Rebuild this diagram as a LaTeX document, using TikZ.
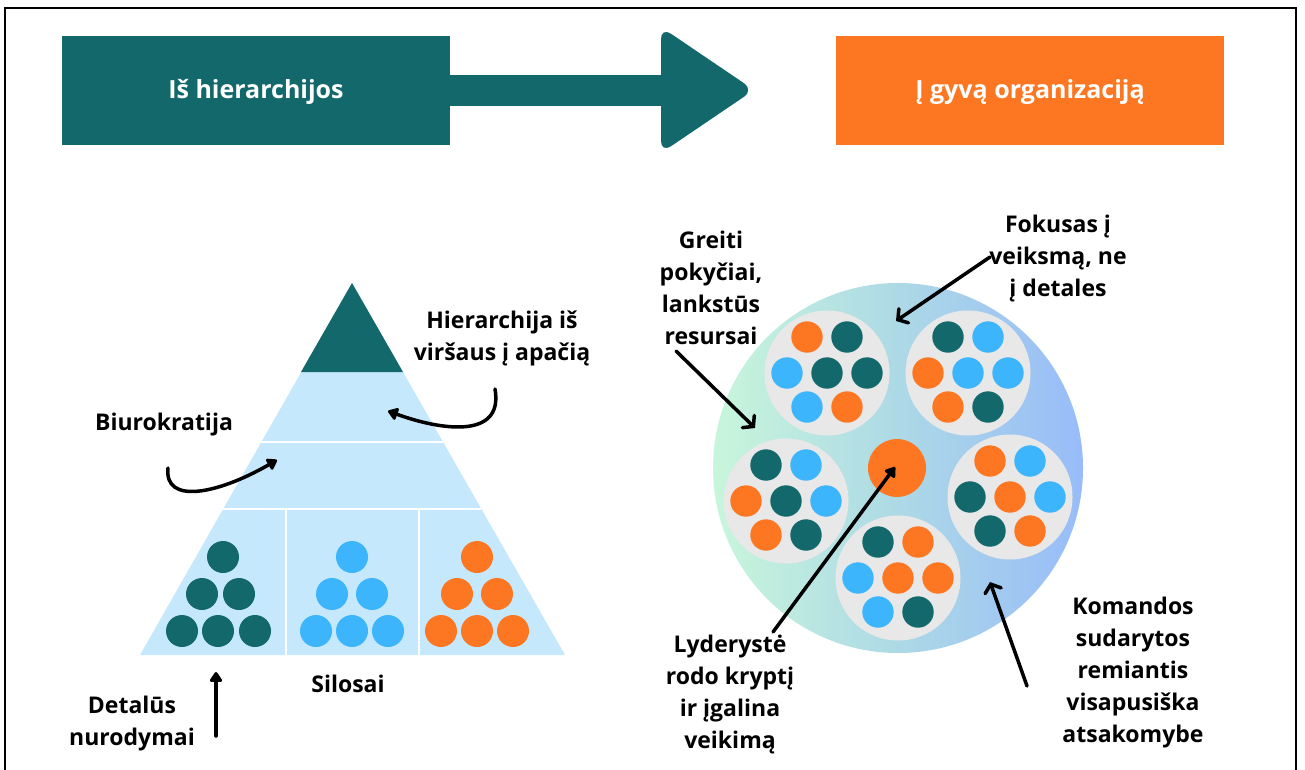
\documentclass[tikz,border=0pt]{standalone}
\usepackage{fontspec}
\setmainfont{Open Sans}
\usetikzlibrary{arrows.meta}
\definecolor{teal1}{HTML}{12686A}
\definecolor{orng}{HTML}{FD7722}
\definecolor{skyb}{HTML}{3DB5FD}
\definecolor{pale}{HTML}{C6E8FC}
\definecolor{grayc}{HTML}{E8E8E8}
\definecolor{mint}{HTML}{C8F6DB}
\definecolor{midc}{HTML}{ADD9E6}
\definecolor{rightc}{HTML}{98BCF9}
\newcommand\mkteam[9]{%
  \begin{scope}[shift={(#1,#2)}]
    \fill[grayc] (0,0) circle (62.5);
    \fill[#3] (-20,-36) circle (15.7);
    \fill[#4] (20,-36) circle (15.7);
    \fill[#5] (-40,0) circle (15.7);
    \fill[#6] (0,0) circle (15.7);
    \fill[#7] (40,0) circle (15.7);
    \fill[#8] (-20,34) circle (15.7);
    \fill[#9] (20,34) circle (15.7);
  \end{scope}}
\tikzset{
  lbl/.style={font=\fontsize{23}{32}\selectfont\bfseries, align=center, inner sep=0pt, text=black},
  hdr/.style={font=\fontsize{25}{28}\selectfont\bfseries, text=white, inner sep=0pt},
  arr/.style={line width=3.5pt, line cap=round, -{Straight Barb[length=7pt,width=17pt,line cap=round]}},
  arrf/.style={line width=3.5pt, line cap=round, -{Triangle[length=11pt,width=14pt,round]}}
}
\begin{document}
\begin{tikzpicture}[x=1pt,y=-1pt]
\useasboundingbox (0,0) rectangle (1305,769);
\fill[white] (0,0) rectangle (1305,769);
\draw[line width=2pt] (5,8) rectangle (1296,790);

% header
\fill[teal1] (62,36) rectangle (450,145);
\fill[teal1] (448,75) rectangle (668,106);
\fill[teal1, rounded corners=12pt] (661,27) -- (754,90) -- (661,153) -- cycle;
\fill[orng] (836,36) rectangle (1224,145);
\node[hdr] (from) at (256,92) {Iš hierarchijos};
\node[hdr] (to) at (1030,92) {Į gyvą organizaciją};

% pyramid
\fill[pale] (352,283) -- (565,655) -- (140,655) -- cycle;
\fill[teal1] (352,283) -- (403,372) -- (301,372) -- cycle;
\draw[white, line width=1.5pt] (261,442) -- (443,442);
\draw[white, line width=1.5pt] (223,509) -- (481,509);
\draw[white, line width=1.5pt] (286,509) -- (286,655);
\draw[white, line width=1.5pt] (419,509) -- (419,655);
\foreach \x/\y in {223/557, 202/594, 239/594, 182/631, 218/631, 255/631}
  \fill[teal1] (\x,\y) circle (16);
\foreach \x/\y in {352/557, 332/594, 372/594, 316/631, 352/631, 388/631}
  \fill[skyb] (\x,\y) circle (16);
\foreach \x/\y in {477/557, 457/594, 497/594, 441/631, 477/631, 513/631}
  \fill[orng] (\x,\y) circle (16);

% right network
\shade[left color=mint, right color=rightc, middle color=midc] (898,468) circle (185);
\mkteam{827}{373}{orng}{teal1}{skyb}{teal1}{teal1}{skyb}{orng}
\mkteam{968}{373}{teal1}{skyb}{orng}{skyb}{skyb}{orng}{teal1}
\mkteam{786}{501}{teal1}{skyb}{orng}{teal1}{skyb}{orng}{teal1}
\mkteam{1010}{497}{orng}{skyb}{teal1}{orng}{skyb}{teal1}{orng}
\mkteam{898}{578}{teal1}{orng}{skyb}{orng}{orng}{skyb}{teal1}
\fill[orng] (897,468) circle (29);

% labels
\node[lbl] (hier) at (502,338) {Hierarchija iš\\viršaus į apačią};
\node[lbl] (biur) at (164,425) {Biurokratija};
\node[lbl] (silo) at (348,684) {Silosai};
\node[lbl] (deta) at (132,724) {Detalūs\\nurodymai};
\node[lbl] (grei) at (711,288) {Greiti\\pokyčiai,\\lankstūs\\resursai};
\node[lbl] (foku) at (1058,259) {Fokusas į\\veiksmą, ne\\į detales};
\node[lbl] (lyde) at (730,695) {Lyderystė\\rodo kryptį\\ir įgalina\\veikimą};
\node[lbl] (koma) at (1133,673) {Komandos\\sudarytos\\remiantis\\visapusiška\\atsakomybe};

% arrows
\coordinate (h0) at (495,389);
\coordinate (h1) at (388,411);
\coordinate (b0) at (168,468);
\coordinate (b1) at (277,460);
\coordinate (d0) at (216,736);
\coordinate (d1) at (216,672);
\coordinate (g0) at (676,351);
\coordinate (g1) at (755,428);
\coordinate (f0) at (990,257);
\coordinate (f1) at (896,321);
\coordinate (l0) at (773,632);
\coordinate (l1) at (895,467);
\coordinate (k0) at (1027,686);
\coordinate (k1) at (990,582);
\draw[arrf] (h0) .. controls (504,440) and (440,430) .. (h1);
\draw[arrf] (b0) .. controls (164,505) and (218,494) .. (b1);
\draw[arrf] (d0) -- (d1);
\draw[arr] (g0) -- (g1);
\draw[arr] (f0) -- (f1);
\draw[arrf] (l0) -- (l1);
\draw[arr] (k0) -- (k1);
\end{tikzpicture}
\end{document}
